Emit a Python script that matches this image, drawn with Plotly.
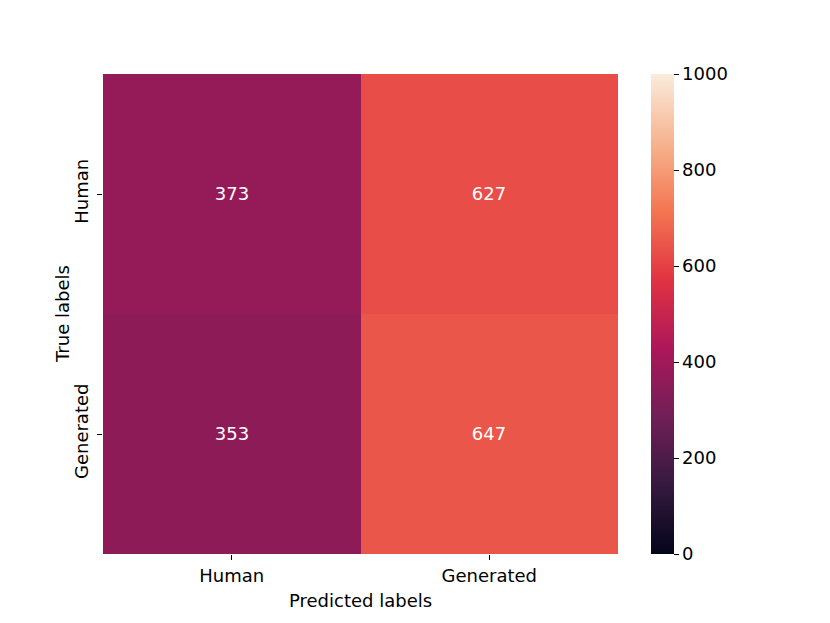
import plotly.graph_objects as go

x_labels = ["Human", "Generated"]
y_labels = ["Human", "Generated"]
counts = [[373, 627], [353, 647]]
cbar_ticks = [0, 200, 400, 600, 800, 1000]
x_title = "Predicted labels"
y_title = "True labels"

rocket = [
    [0.0, "#03051a"],
    [1/7, "#35193e"],
    [2/7, "#701f57"],
    [3/7, "#ad1759"],
    [4/7, "#e13342"],
    [5/7, "#f37651"],
    [6/7, "#f6b48f"],
    [1.0, "#faebdd"],
]

font = "DejaVu Sans"
FS = 18
L, R, T, B = 95, 220, 66, 77
PW, PH = 830 - L - R, 623 - T - B
fig = go.Figure(go.Heatmap(
    z=counts, x=x_labels, y=y_labels,
    zmin=0, zmax=1000, colorscale=rocket,
    text=[[str(v) for v in row] for row in counts],
    texttemplate="%{text}", textfont=dict(color="white", size=FS, family=font),
    xgap=0, ygap=0,
    colorbar=dict(
        x=(651 - 103) / 515, xanchor="left", xpad=0, ypad=0,
        y=0.5, yanchor="middle", len=1, lenmode="fraction",
        thickness=23, outlinewidth=0,
        tickvals=cbar_ticks, ticks="outside", ticklen=5, tickwidth=1,
        tickcolor="black", tickfont=dict(size=FS, family=font, color="black"),
    ),
    showscale=True,
))

fig.update_layout(
    width=830, height=623,
    margin=dict(l=L, r=R, t=T, b=B),
    paper_bgcolor="white", plot_bgcolor="white",
    font=dict(family=font, size=FS, color="black"),
    xaxis=dict(
        ticks="outside", ticklen=5, tickcolor="black", tickwidth=1,
        showgrid=False, zeroline=False, showline=False,
        tickfont=dict(size=FS),
    ),
    yaxis=dict(
        autorange="reversed", tickangle=-90,
        ticks="outside", ticklen=5, tickcolor="black", tickwidth=1,
        ticklabelstandoff=2,
        showgrid=False, zeroline=False, showline=False,
        tickfont=dict(size=FS),
    ),
    annotations=[
        dict(text=x_title, xref="paper", yref="paper", x=0.5,
             y=-(600 - 8 - (T + PH)) / PH, xanchor="center", yanchor="middle",
             showarrow=False, font=dict(size=FS)),
        dict(text=y_title, xref="paper", yref="paper",
             x=-(L - (62 - 8)) / PW, y=0.5, textangle=-90,
             xanchor="center", yanchor="middle",
             showarrow=False, font=dict(size=FS)),
    ],
)

fig.write_html("out.html")
